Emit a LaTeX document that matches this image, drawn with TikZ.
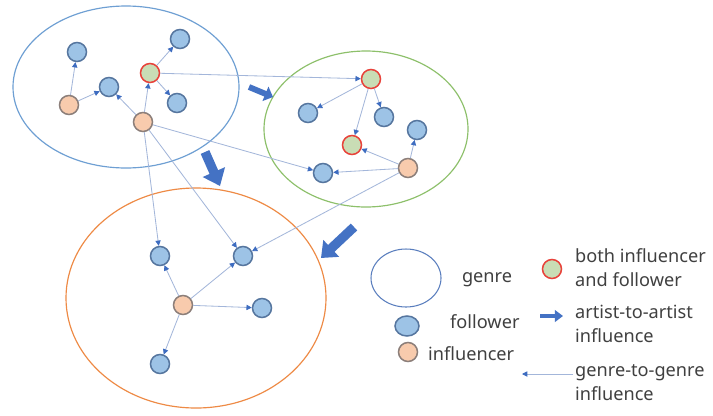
\documentclass[tikz,border=0pt]{standalone}
\usepackage{fontspec}
\setmainfont{Noto Sans}
\usetikzlibrary{arrows.meta,shapes.geometric}
\definecolor{fol}{HTML}{9DC3E6}
\definecolor{folb}{HTML}{56769F}
\definecolor{inf}{HTML}{F8CBAD}
\definecolor{infb}{HTML}{8C7F7A}
\definecolor{both}{HTML}{C9DDB5}
\definecolor{bothb}{HTML}{E8423A}
\definecolor{gblue}{HTML}{6E9FD3}
\definecolor{ggreen}{HTML}{8DC06A}
\definecolor{gorange}{HTML}{EE8A45}
\definecolor{lgblue}{HTML}{5A7EBE}
\definecolor{edgec}{HTML}{A3B6DA}
\definecolor{tipc}{HTML}{3D6CC0}
\definecolor{thick}{HTML}{4472C4}
\definecolor{txt}{HTML}{404040}
\begin{document}
\begin{tikzpicture}[x=0.03cm,y=-0.03cm,
 nd/.style={circle,minimum size=0.57cm,inner sep=0pt,line width=1.3pt},
 follower/.style={nd,fill=fol,draw=folb},
 influencer/.style={nd,fill=inf,draw=infb},
 bothnd/.style={nd,fill=both,draw=bothb},
 link/.style={draw=edgec,line width=0.7pt,-{Triangle[length=4.5pt,width=4.5pt,color=tipc]}},
 bigarrow/.style={draw=thick,line width=#1},
 lbl/.style={text=txt,font=\fontsize{15.5}{20.5}\selectfont,align=left,inner sep=0pt}
]
\useasboundingbox[fill=white] (0,0) rectangle (713,415);

% genres
\draw[gblue,line width=1pt] (126,87) ellipse [x radius=113, y radius=81];
\draw[ggreen,line width=1pt] (366,129) ellipse [x radius=102, y radius=78];
\draw[gorange,line width=1pt] (196,298) ellipse [x radius=130, y radius=110];

% blue genre nodes
\node[follower] (F1) at (77,52) {};
\node[follower] (F2) at (180,39) {};
\node[follower] (F3) at (109,87) {};
\node[bothnd] (B1) at (150,73) {};
\node[follower] (F4) at (177,103) {};
\node[influencer] (I1) at (69,105) {};
\node[influencer] (I2) at (143,122) {};

% green genre nodes
\node[bothnd] (GB1) at (371,79) {};
\node[follower] (GF1) at (308,113) {};
\node[follower] (GF2) at (384,117) {};
\node[follower] (GF3) at (417,130) {};
\node[bothnd] (GB2) at (352,145) {};
\node[influencer] (GI) at (408,168) {};
\node[follower] (GF4) at (323,173) {};

% orange genre nodes
\node[follower] (O1) at (160,256) {};
\node[follower] (O2) at (243,256) {};
\node[influencer] (OI) at (183,305) {};
\node[follower] (O3) at (262,308) {};
\node[follower] (O4) at (160,364) {};

% links
\draw[link] (I1) -- (F1);
\draw[link] (I1) -- (F3);
\draw[link] (I2) -- (F3);
\draw[link] (I2) -- (B1);
\draw[link] (B1) -- (F2);
\draw[link] (B1) -- (F4);
\draw[link] (B1) -- (GB1);
\draw[link] (I2) -- (GF4);
\draw[link] (I2) -- (O1);
\draw[link] (I2) -- (O2);
\draw[link] (GB1) -- (GF1);
\draw[link] (GB1) -- (GF2);
\draw[link] (GB1) -- (GB2);
\draw[link] (GI) -- (GF3);
\draw[link] (GI) -- (GB2);
\draw[link] (GI) -- (GF4);
\draw[link] (GI) -- (O2);
\draw[link] (OI) -- (O1);
\draw[link] (OI) -- (O2);
\draw[link] (OI) -- (O3);
\draw[link] (OI) -- (O4);

% thick arrows
\coordinate (a1s) at (205,152); \coordinate (a1e) at (220,186);
\coordinate (a2s) at (249,87);  \coordinate (a2e) at (273,97);
\coordinate (a3s) at (354,227); \coordinate (a3e) at (321,258);
\draw[bigarrow=8pt,-{Triangle[length=13pt,width=20pt]}] (a1s) -- (a1e);
\draw[bigarrow=5pt,-{Triangle[length=7pt,width=13pt]}] (a2s) -- (a2e);
\draw[bigarrow=8pt,-{Triangle[length=12pt,width=19pt]}] (a3s) -- (a3e);

% legend
\draw[lgblue,line width=0.9pt] (406,278) ellipse [x radius=35, y radius=29];
\node[lbl] (tgenre) at (487,280) {genre};
\node[nd,fill=fol,draw=folb,ellipse,minimum width=0.72cm,minimum height=0.6cm] (lfol) at (407,326) {};
\node[lbl,anchor=west] (tfol) at (450,322) {follower};
\node[influencer] (linf) at (408,352) {};
\node[lbl,anchor=west] (tinf) at (428,354) {influencer};
\node[bothnd] (lboth) at (552,269) {};
\node[lbl,anchor=west] (tboth) at (575,268) {both influencer\\and follower};
\coordinate (la1) at (540,316); \coordinate (la2) at (563,316);
\draw[bigarrow=4pt,-{Triangle[length=7pt,width=10pt]}] (la1) -- (la2);
\node[lbl,anchor=west] (tart) at (575,324) {artist-to-artist\\influence};
\coordinate (lt1) at (573,374); \coordinate (lt2) at (522,374);
\draw[link] (lt1) -- (lt2);
\node[lbl,anchor=west] (tgg) at (575,383) {genre-to-genre\\influence};
\end{tikzpicture}
\end{document}
